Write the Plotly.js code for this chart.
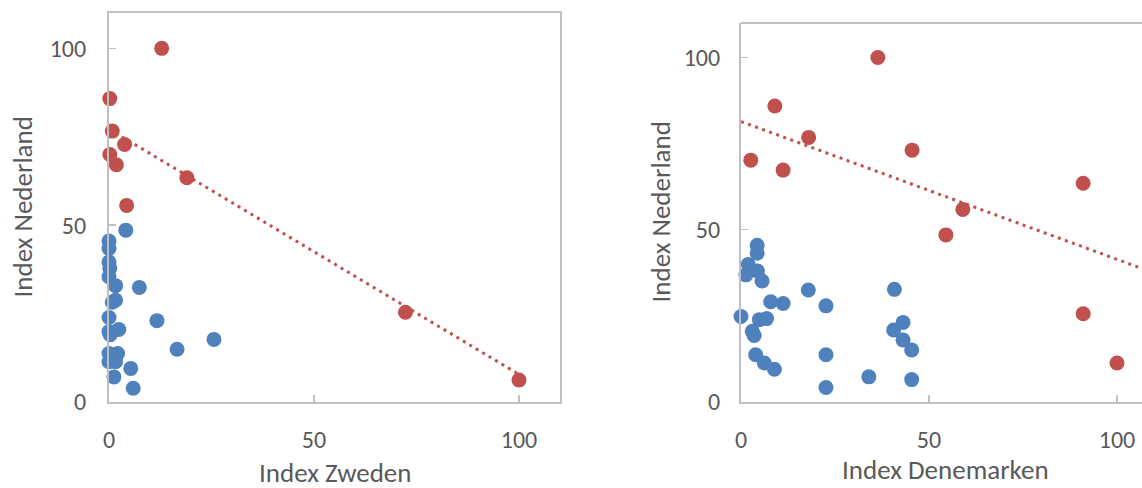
<!DOCTYPE html>
<html>
<head>
<meta charset="utf-8">
<script src="https://cdn.plot.ly/plotly-3.0.1.min.js"></script>
<style>
html,body{margin:0;padding:0;overflow:hidden;background:#fff;}
#chart{width:1142px;height:488px;}
</style>
</head>
<body>
<div id="chart"></div>
<script>
// ---- Data ----
// Left panel: Index Zweden (x) vs Index Nederland (y)
var sweBlueX = [4.1, 0, 0, 0, 0.2, 0, 1.6, 7.4, 0.8, 1.6, 0, 11.7, 2.4, 0, 0.3, 25.6, 16.6, 0, 2.1, 0, 1.6, 5.3, 1.2, 5.9];
var sweBlueY = [48.6, 45.5, 43.4, 39.6, 37.8, 35.4, 32.9, 32.4, 28.2, 28.8, 23.9, 23.0, 20.5, 19.9, 19.0, 17.7, 14.9, 13.7, 13.7, 11.4, 11.4, 9.5, 7.1, 3.9];
var sweRedX = [12.85, 0.2, 0.8, 3.8, 0.2, 1.8, 19, 4.3, 72.3, 100];
var sweRedY = [100, 85.8, 76.6, 72.8, 70, 67.1, 63.4, 55.6, 25.4, 6.2];
var sweTrendX = [0, 100];
var sweTrendY = [77.2, 7.8];

// Right panel: Index Denemarken (x) vs Index Nederland (y)
var denBlueX = [4.3, 4.3, 1.9, 4.4, 1.3, 5.6, 17.9, 40.8, 7.9, 11.2, 22.6, 0, 4.9, 6.8, 43.1, 3.0, 3.5, 40.6, 43.1, 45.4, 22.6, 3.9, 6.2, 8.9, 34, 45.4, 22.6];
var denBlueY = [45.5, 43.2, 39.9, 38, 36.9, 35.1, 32.5, 32.7, 29.1, 28.6, 27.9, 24.8, 23.9, 24.2, 23.1, 20.5, 19.3, 20.9, 18, 15.1, 13.7, 13.7, 11.3, 9.5, 7.3, 6.5, 4.2];
var denRedX = [36.4, 9.0, 18, 2.6, 11.2, 45.5, 59, 91, 54.5, 91, 100];
var denRedY = [100, 85.9, 76.8, 70.2, 67.3, 73.1, 55.9, 63.5, 48.5, 25.6, 11.3];
var denTrendX = [0, 110];
var denTrendY = [81.4, 37.4];

var tickVals = [0, 50, 100];
var tickText = ['0', '50', '100'];
var titles = ['Index Zweden', 'Index Nederland', 'Index Denemarken', 'Index Nederland'];

// ---- Styling ----
var RED = '#C0504D', BLUE = '#4F81BD', AX = '#BFBFBF', TXT = '#595959';
var FONT = 'Calibri, Carlito, Lato, sans-serif';
var W = 1142, H = 488;
function fx(px){ return px / W; }
function fy(px){ return 1 - px / H; }

function mk(x, y, color, xa, ya){
  return {x: x, y: y, type: 'scatter', mode: 'markers', xaxis: xa, yaxis: ya,
    marker: {color: color, size: 15, line: {width: 0}}, cliponaxis: false, hoverinfo: 'x+y', showlegend: false};
}
function trend(x, y, xa, ya){
  return {x: x, y: y, type: 'scatter', mode: 'lines', xaxis: xa, yaxis: ya,
    line: {color: RED, width: 3, dash: '3px,4.5px'}, hoverinfo: 'skip', showlegend: false};
}

var data = [
  trend(sweTrendX, sweTrendY, 'x', 'y'),
  mk(sweBlueX, sweBlueY, BLUE, 'x', 'y'),
  mk(sweRedX, sweRedY, RED, 'x', 'y'),
  trend(denTrendX, denTrendY, 'x2', 'y2'),
  mk(denBlueX, denBlueY, BLUE, 'x2', 'y2'),
  mk(denRedX, denRedY, RED, 'x2', 'y2')
];

function axis(extra){
  var a = {
    showgrid: false, zeroline: false, showline: true, linecolor: AX, linewidth: 2,
    ticks: 'inside', ticklen: 7, tickwidth: 1.5, tickcolor: AX,
    tickvals: tickVals, ticktext: tickText,
    tickfont: {family: FONT, size: 24, color: TXT},
    automargin: false, fixedrange: true
  };
  for (var k in extra) a[k] = extra[k];
  return a;
}

var titleFont = {family: FONT, size: 27, color: TXT};
function ttl(text, xpx, ypx, angle){
  return {text: text, xref: 'paper', yref: 'paper', x: fx(xpx), y: fy(ypx),
    xanchor: 'center', yanchor: 'middle', showarrow: false, borderpad: 0,
    textangle: angle || 0, font: titleFont};
}

var layout = {
  width: W, height: H,
  margin: {l: 0, r: 0, t: 0, b: 0},
  paper_bgcolor: '#fff', plot_bgcolor: '#fff',
  xaxis: axis({domain: [fx(109), fx(560)], range: [0, 110], anchor: 'y', mirror: true, ticklabelstandoff: 15}),
  yaxis: axis({domain: [fy(402), fy(13)], range: [0, 110], anchor: 'x', mirror: true, ticklabelstandoff: 16}),
  xaxis2: axis({domain: [fx(741), 1], range: [0, (1142 - 741) / 3.76], anchor: 'y2', mirror: false, ticklabelstandoff: 15}),
  yaxis2: axis({domain: [fy(402), fy(23)], range: [0, 110], anchor: 'x2', mirror: false, ticklabelstandoff: 14}),
  annotations: [
    ttl(titles[0], 334.5, 472),
    ttl(titles[1], 22, 207.5, -90),
    ttl(titles[2], 945, 469),
    ttl(titles[3], 660, 212.5, -90)
  ],
  shapes: [
    {type: 'line', xref: 'paper', yref: 'paper', x0: fx(741), x1: 1, y0: fy(23), y1: fy(23),
     line: {color: AX, width: 2}}
  ]
};

Plotly.newPlot('chart', data, layout, {displayModeBar: false, staticPlot: true});
</script>
</body>
</html>
